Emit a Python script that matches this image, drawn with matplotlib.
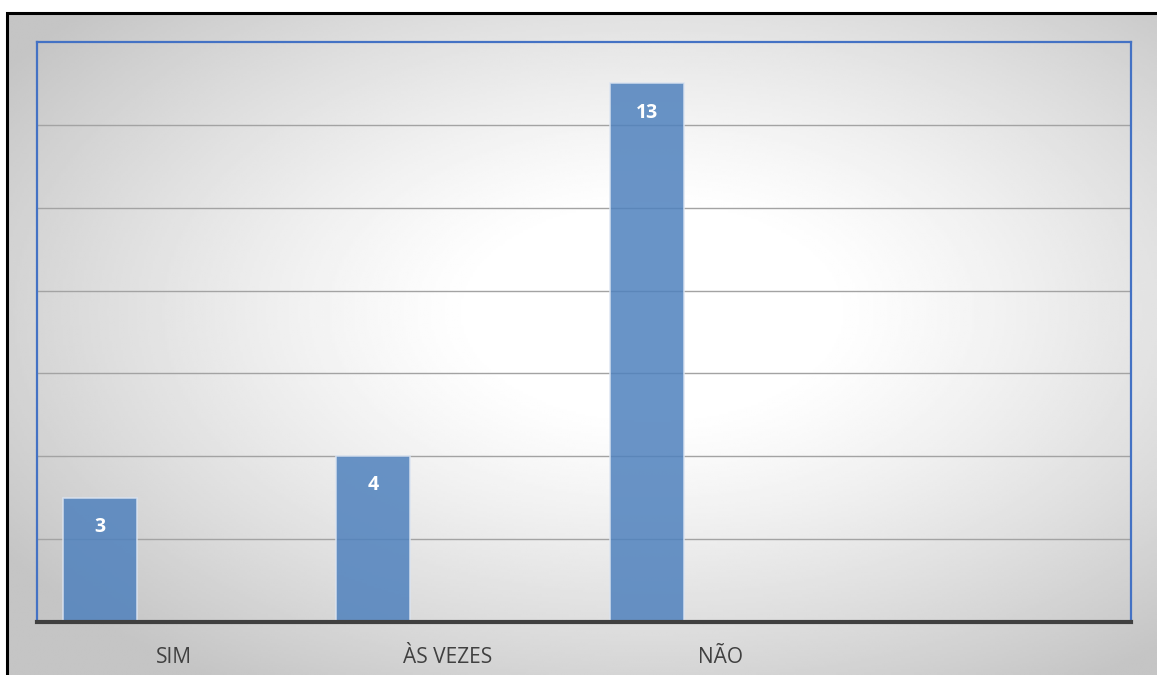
import matplotlib.pyplot as plt
import numpy as np
from matplotlib.patches import Rectangle

# respostas
categorias = ["SIM", "ÀS VEZES", "NÃO", ""]
valores = [3, 4, 13]

plt.rcParams['font.family'] = ['Open Sans', 'DejaVu Sans']

W, H = 1157, 675
fig = plt.figure(figsize=(W / 100, H / 100), dpi=100)
fig.patch.set_facecolor('white')

# fundo com gradiente radial (claro no centro, cinza nas bordas)
fx0, fy1 = 7 / W, 1 - 13 / H
bg = fig.add_axes([fx0, 0, 1 - fx0, fy1])
bg.set_axis_off()
ny, nx = 300, 500
yy, xx = np.mgrid[0:ny, 0:nx]
cx, cy = 0.56 * nx, 0.45 * ny
r = np.sqrt(((xx - cx) / (0.5 * nx)) ** 2 + ((yy - cy) / (0.5 * ny)) ** 2)
v = 1 - 0.23 * np.clip((r - 0.3) / 1.05, 0, 1) ** 1.2
bg.imshow(v, cmap='gray', vmin=0, vmax=1, aspect='auto', extent=[0, 1, 0, 1])
bg.set_xlim(0, 1)
bg.set_ylim(0, 1)
fig.add_artist(Rectangle((fx0, -0.01), 1.02 - fx0, fy1 + 0.01, transform=fig.transFigure,
                         fill=False, edgecolor='black', linewidth=2.2))

ax = fig.add_axes([37 / W, 1 - 622 / H, (1131 - 37) / W, (622 - 42) / H])
ax.set_facecolor('none')

x = np.arange(len(categorias))
ax.bar(x[:len(valores)] - 0.27, valores, width=0.27, color='#4F81BD', alpha=0.85,
       edgecolor='#dbe4f1', linewidth=1.2, zorder=3)

for xi, val in zip(x, valores):
    ax.annotate(str(val), (xi - 0.27, val), xytext=(0, -21), textcoords='offset points',
                ha='center', va='center', color='white', fontsize=14, fontweight='bold', zorder=4)

ax.set_xlim(-0.5, len(categorias) - 0.5)
ax.set_ylim(0, 14)
ax.set_yticks(range(2, 14, 2))
ax.yaxis.grid(True, color='#a3a3a3', linewidth=1, zorder=1)
ax.tick_params(axis='y', left=False, labelleft=False)
ax.set_xticks(x)
ax.set_xticklabels(categorias, fontsize=15, color='#404040')
ax.tick_params(axis='x', length=0, pad=18)

for s in ['left', 'right', 'top']:
    ax.spines[s].set_color('#4472C4')
    ax.spines[s].set_linewidth(1.6)
ax.spines['bottom'].set_color('#404040')
ax.spines['bottom'].set_linewidth(3)
ax.spines['bottom'].set_zorder(5)

fig.savefig('out.png', dpi=100)
